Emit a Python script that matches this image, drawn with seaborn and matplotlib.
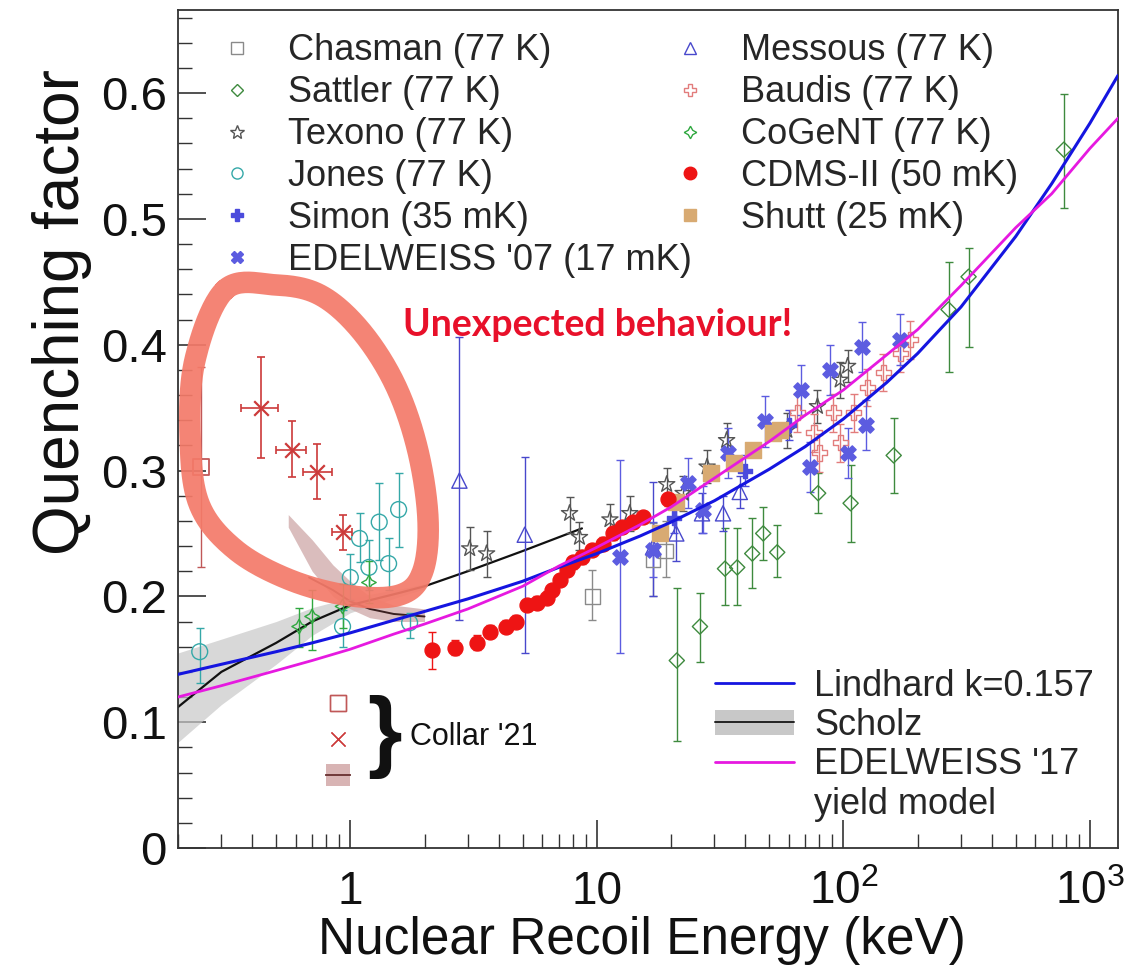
import numpy as np
import pandas as pd
import matplotlib
matplotlib.use("Agg")
import matplotlib.pyplot as plt
import seaborn as sns
from matplotlib.lines import Line2D
from matplotlib.patches import Patch
from matplotlib.ticker import FixedLocator, FuncFormatter, MultipleLocator, LogLocator, NullFormatter

# ---------------- data ----------------
# model curves
curve_x = [0.2, 0.3, 0.5, 0.7, 1, 1.5, 2, 3, 5, 7, 10, 15, 20, 30, 50, 70, 100, 150, 200, 300, 500, 700, 1000, 1300]
lindhard_y = [0.138, 0.146, 0.156, 0.163, 0.171, 0.181, 0.188, 0.198, 0.212, 0.223, 0.234, 0.248, 0.259, 0.276,
              0.301, 0.319, 0.341, 0.370, 0.393, 0.430, 0.486, 0.528, 0.576, 0.614]
edw17_y = [0.120, 0.129, 0.141, 0.149, 0.158, 0.170, 0.178, 0.190, 0.208, 0.224, 0.239, 0.257, 0.271, 0.294,
           0.323, 0.344, 0.364, 0.392, 0.412, 0.447, 0.493, 0.520, 0.556, 0.580]

scholz_x = [0.2, 0.3, 0.5, 0.7, 1.0, 1.6, 2.0, 3.0, 5.0, 8.7]
scholz_y = [0.112, 0.140, 0.163, 0.180, 0.193, 0.203, 0.208, 0.220, 0.236, 0.254]
scholz_band_x = [0.2, 0.3, 0.5, 0.7, 1.0, 1.6, 2.0]
scholz_lo = [0.084, 0.114, 0.146, 0.169, 0.187, 0.200, 0.206]
scholz_hi = [0.155, 0.166, 0.180, 0.191, 0.199, 0.206, 0.210]

collar_band_x = [0.56, 0.7, 0.85, 1.0, 1.2, 1.5, 2.0]
collar_band_lo = [0.255, 0.220, 0.200, 0.190, 0.183, 0.180, 0.180]
collar_band_hi = [0.265, 0.245, 0.225, 0.212, 0.200, 0.193, 0.190]
collar_line_x = [0.68, 0.85, 1.0, 1.2, 1.5, 2.0]
collar_line_y = [0.215, 0.205, 0.196, 0.190, 0.186, 0.184]

# Collar '21 points
collar_x = [0.435, 0.58, 0.734, 0.93]
collar_y = [0.350, 0.316, 0.299, 0.251]
collar_ylo = [0.310, 0.295, 0.277, 0.237]
collar_yhi = [0.390, 0.339, 0.321, 0.265]
collar_xlo = [0.36, 0.50, 0.64, 0.845]
collar_xhi = [0.51, 0.66, 0.84, 1.02]
collar_sq_x = [0.248]
collar_sq_y = [0.303]
collar_sq_lo = [0.223]
collar_sq_hi = [0.382]

# measurements
chasman_x = [9.6, 16.9, 19.0]
chasman_y = [0.200, 0.229, 0.236]
chasman_lo = [0.181, 0.200, 0.215]
chasman_hi = [0.221, 0.258, 0.260]

sattler_x = [21.1, 26.2, 33.1, 37.1, 42.7, 47.3, 53.9, 79, 107, 160, 267, 322, 784]
sattler_y = [0.149, 0.176, 0.222, 0.223, 0.234, 0.250, 0.235, 0.282, 0.274, 0.312, 0.428, 0.454, 0.555]
sattler_lo = [0.085, 0.148, 0.193, 0.193, 0.207, 0.229, 0.215, 0.266, 0.243, 0.282, 0.378, 0.398, 0.509]
sattler_hi = [0.207, 0.203, 0.254, 0.254, 0.262, 0.271, 0.257, 0.298, 0.304, 0.342, 0.466, 0.477, 0.599]

texono_x = [3.05, 3.57, 7.75, 8.5, 11.3, 13.6, 19.2, 22.4, 28, 33.6, 59, 78.5, 97, 104]
texono_y = [0.238, 0.234, 0.266, 0.247, 0.261, 0.266, 0.289, 0.282, 0.303, 0.324, 0.332, 0.351, 0.372, 0.383]
texono_lo = [0.221, 0.215, 0.250, 0.237, 0.249, 0.252, 0.276, 0.268, 0.290, 0.310, 0.318, 0.338, 0.358, 0.370]
texono_hi = [0.255, 0.252, 0.279, 0.259, 0.273, 0.280, 0.302, 0.296, 0.316, 0.338, 0.346, 0.364, 0.386, 0.396]

jones_x = [0.245, 0.93, 1.0, 1.09, 1.19, 1.31, 1.43, 1.57, 1.74]
jones_y = [0.156, 0.176, 0.215, 0.246, 0.223, 0.259, 0.226, 0.269, 0.179]
jones_lo = [0.131, 0.160, 0.197, 0.227, 0.205, 0.229, 0.205, 0.239, 0.167]
jones_hi = [0.175, 0.189, 0.234, 0.266, 0.245, 0.290, 0.246, 0.298, 0.187]

simon_x = [20.5, 40.0, 60.0]
simon_y = [0.262, 0.300, 0.336]
simon_lo = [0.250, 0.288, 0.324]
simon_hi = [0.274, 0.312, 0.348]

edw07_x = [12.4, 16.9, 23.4, 27, 34, 48, 67, 73, 88, 104, 119, 123, 170]
edw07_y = [0.231, 0.237, 0.290, 0.269, 0.314, 0.339, 0.364, 0.303, 0.380, 0.314, 0.398, 0.336, 0.404]
edw07_lo = [0.155, 0.215, 0.270, 0.250, 0.294, 0.319, 0.344, 0.283, 0.360, 0.294, 0.378, 0.316, 0.384]
edw07_hi = [0.308, 0.259, 0.310, 0.288, 0.334, 0.359, 0.384, 0.323, 0.400, 0.334, 0.418, 0.356, 0.424]

messous_x = [2.77, 5.1, 16.9, 21, 26.7, 32.5, 38]
messous_y = [0.292, 0.249, 0.239, 0.250, 0.266, 0.266, 0.283]
messous_lo = [0.181, 0.155, 0.200, 0.228, 0.250, 0.252, 0.270]
messous_hi = [0.406, 0.311, 0.291, 0.272, 0.282, 0.280, 0.296]

baudis_x = [65, 76, 80, 91, 97, 110, 125, 145, 170, 187]
baudis_y = [0.346, 0.330, 0.314, 0.346, 0.322, 0.346, 0.366, 0.378, 0.393, 0.404]
baudis_lo = [0.331, 0.315, 0.299, 0.331, 0.307, 0.331, 0.351, 0.363, 0.378, 0.389]
baudis_hi = [0.361, 0.345, 0.329, 0.361, 0.337, 0.361, 0.381, 0.393, 0.408, 0.419]

cogent_x = [0.62, 0.70, 0.93, 1.19]
cogent_y = [0.176, 0.184, 0.192, 0.211]
cogent_lo = [0.160, 0.157, 0.175, 0.195]
cogent_hi = [0.191, 0.205, 0.210, 0.228]

cdms_x = [2.15, 2.65, 3.25, 3.67, 4.3, 4.7, 5.2, 5.7, 6.3, 6.6, 7.1, 7.55, 8.0, 8.7, 9.6, 10.6, 11.6, 12.7, 14.0, 15.4, 19.5]
cdms_y = [0.157, 0.159, 0.163, 0.172, 0.176, 0.180, 0.193, 0.195, 0.199, 0.205, 0.213, 0.221, 0.227, 0.231,
          0.237, 0.242, 0.250, 0.255, 0.259, 0.263, 0.277]
cdms_err = [0.015, 0.006, 0.006, 0.005, 0.005, 0.005, 0.005, 0.005, 0.005, 0.005, 0.005, 0.005, 0.005, 0.005,
            0.005, 0.005, 0.005, 0.005, 0.005, 0.005, 0.005]

shutt_x = [18, 21, 29, 36, 43, 52, 55.5]
shutt_y = [0.250, 0.275, 0.298, 0.306, 0.316, 0.330, 0.332]

y_ticks = [0, 0.1, 0.2, 0.3, 0.4, 0.5, 0.6]
x_ticks = [1, 10, 100, 1000]
x_tick_labels = ["1", "10", "$10^{2}$", "$10^{3}$"]

legend1_labels = ["Chasman (77 K)", "Sattler (77 K)", "Texono (77 K)", "Jones (77 K)", "Simon (35 mK)",
                  "EDELWEISS '07 (17 mK)"]
legend2_labels = ["Messous (77 K)", "Baudis (77 K)", "CoGeNT (77 K)", "CDMS-II (50 mK)", "Shutt (25 mK)"]
legend3_labels = ["Lindhard k=0.157", "Scholz", "EDELWEISS '17", "yield model"]

# annotation ring (axes fraction)
ring_pts = [(0.050, 0.666), (0.103, 0.672), (0.151, 0.660), (0.194, 0.618), (0.231, 0.553), (0.255, 0.475),
            (0.266, 0.391), (0.260, 0.329), (0.236, 0.302), (0.183, 0.301), (0.119, 0.320), (0.061, 0.356),
            (0.023, 0.409), (0.013, 0.487), (0.018, 0.582)]

# ---------------- styling ----------------
sns.set_theme(style="ticks")
plt.rcParams["font.family"] = ["Liberation Sans", "DejaVu Sans"]
plt.rcParams["mathtext.fontset"] = "custom"
plt.rcParams["mathtext.rm"] = "Liberation Sans"
plt.rcParams["mathtext.it"] = "Liberation Sans:italic"
plt.rcParams["mathtext.bf"] = "Liberation Sans:bold"
plt.rcParams["axes.unicode_minus"] = False

C_BLUE = "#1515E0"
C_MAG = "#E619E0"
C_CHAS = "#8A8A8A"
C_SATT = "#3E8A3E"
C_TEX = "#555555"
C_JON = "#35A8A8"
C_SIM = "#4B4BDC"
C_EDW = "#5C5CE0"
C_MES = "#4848CC"
C_BAU = "#E27C7C"
C_COG = "#30A840"
C_CDMS = "#EE1414"
C_SHU = "#D8AA72"
C_COL = "#CC3A3A"
C_COLSQ = "#C05858"

fig = plt.figure(figsize=(11.25, 9.67), dpi=100)
ax = fig.add_axes([0.15822, 0.12306, 0.83556, 0.86660])
ax.set_xscale("log")
ax.set_xlim(0.2, 1300)
ax.set_ylim(0, 0.666)

# bands
ax.fill_between(scholz_band_x, scholz_lo, scholz_hi, color="#C8C8C8", alpha=0.7, lw=0, zorder=1)
ax.fill_between(collar_band_x, collar_band_lo, collar_band_hi, color="#D4B2B2", alpha=0.85, lw=0, zorder=1)

# curves
sns.lineplot(x=scholz_x, y=scholz_y, ax=ax, color="#111111", lw=1.6, zorder=2, estimator=None, sort=False)
sns.lineplot(x=collar_line_x, y=collar_line_y, ax=ax, color="#3A2020", lw=1.4, zorder=2, estimator=None, sort=False)


def series(x, y, lo, hi, color, marker, filled, size, lw=1.0, z=4, cap=3):
    x = np.asarray(x, float)
    y = np.asarray(y, float)
    if lo is not None:
        lo = np.asarray(lo, float)
        hi = np.asarray(hi, float)
        ax.errorbar(x, y, yerr=[y - lo, hi - y], fmt="none", ecolor=color, elinewidth=1.0,
                    capsize=cap, capthick=1.0, zorder=z - 1)
    if filled:
        sns.scatterplot(x=x, y=y, ax=ax, marker=marker, s=size, color=color, edgecolor=color,
                        linewidth=lw, zorder=z, legend=False)
    else:
        sns.scatterplot(x=x, y=y, ax=ax, marker=marker, s=size, facecolor="none", edgecolor=color,
                        linewidth=lw, zorder=z, legend=False)


series(chasman_x, chasman_y, chasman_lo, chasman_hi, C_CHAS, "s", False, 110)
series(sattler_x, sattler_y, sattler_lo, sattler_hi, C_SATT, "D", False, 60)
series(texono_x, texono_y, texono_lo, texono_hi, C_TEX, "*", False, 150)
series(jones_x, jones_y, jones_lo, jones_hi, C_JON, "o", False, 130)
series(messous_x, messous_y, messous_lo, messous_hi, C_MES, "^", False, 120)
series(baudis_x, baudis_y, baudis_lo, baudis_hi, C_BAU, "P", False, 120)
series(cogent_x, cogent_y, cogent_lo, cogent_hi, C_COG, (4, 1, 0), False, 110)
series(simon_x, simon_y, simon_lo, simon_hi, C_SIM, "P", True, 110)
series(edw07_x, edw07_y, edw07_lo, edw07_hi, C_EDW, "X", True, 120)
series(shutt_x, shutt_y, None, None, C_SHU, "s", True, 130)
cd_y = np.asarray(cdms_y)
cd_e = np.asarray(cdms_err)
series(cdms_x, cdms_y, cd_y - cd_e, cd_y + cd_e, C_CDMS, "o", True, 115, z=5)

sns.lineplot(x=curve_x, y=lindhard_y, ax=ax, color=C_BLUE, lw=2.2, zorder=6, estimator=None, sort=False)
sns.lineplot(x=curve_x, y=edw17_y, ax=ax, color=C_MAG, lw=2.0, zorder=6, estimator=None, sort=False)

# Collar '21
cx = np.asarray(collar_x)
cy = np.asarray(collar_y)
ax.errorbar(cx, cy, yerr=[cy - np.asarray(collar_ylo), np.asarray(collar_yhi) - cy],
            xerr=[cx - np.asarray(collar_xlo), np.asarray(collar_xhi) - cx],
            fmt="none", ecolor=C_COL, elinewidth=1.2, capsize=3, capthick=1.2, zorder=7)
sns.scatterplot(x=cx, y=cy, ax=ax, marker="x", s=110, color=C_COL, linewidth=1.6, zorder=8, legend=False)
series(collar_sq_x, collar_sq_y, collar_sq_lo, collar_sq_hi, C_COLSQ, "s", False, 140, lw=1.3, z=8)

# annotation ring
P = np.array(ring_pts)
n = len(P)
ts = np.linspace(0, 1, 24, endpoint=False)
pts = []
for i in range(n):
    p0, p1, p2, p3 = P[(i - 1) % n], P[i], P[(i + 1) % n], P[(i + 2) % n]
    for t in ts:
        pts.append(0.5 * (2 * p1 + (-p0 + p2) * t + (2 * p0 - 5 * p1 + 4 * p2 - p3) * t ** 2
                          + (-p0 + 3 * p1 - 3 * p2 + p3) * t ** 3))
pts.append(pts[0])
pts = np.array(pts)
ax.plot(pts[:, 0], pts[:, 1], transform=ax.transAxes, color="#F47A69", lw=15.5, alpha=0.92,
        solid_capstyle="round", solid_joinstyle="round", zorder=9)

ax.text(0.446, 0.624, "Unexpected behaviour!", transform=ax.transAxes, ha="center", va="center",
        color="#E8102A", fontsize=27, fontweight="bold", family=["Lato", "DejaVu Sans"], zorder=10)

# ---------------- axes formatting ----------------
ax.yaxis.set_major_locator(FixedLocator(y_ticks))
ax.yaxis.set_minor_locator(MultipleLocator(0.02))
ax.yaxis.set_major_formatter(FuncFormatter(lambda v, p: "%g" % round(v, 3)))
ax.xaxis.set_major_locator(FixedLocator(x_ticks))
ax.xaxis.set_major_formatter(FuncFormatter(lambda v, p: x_tick_labels[x_ticks.index(int(round(v)))]
                                           if int(round(v)) in x_ticks else ""))
ax.xaxis.set_minor_locator(LogLocator(base=10, subs=np.arange(2, 10), numticks=20))
ax.xaxis.set_minor_formatter(NullFormatter())

ax.tick_params(axis="both", which="major", direction="in", length=20, width=1.2, color="#333333",
               top=False, right=False)
ax.tick_params(axis="both", which="minor", direction="in", length=10, width=1.0, color="#333333",
               top=False, right=False)
ax.tick_params(axis="y", which="major", labelsize=34, pad=8, labelcolor="#111111")
ax.tick_params(axis="x", which="major", labelsize=33, pad=16, labelcolor="#111111")
for sp in ax.spines.values():
    sp.set_visible(True)
    sp.set_linewidth(1.3)
    sp.set_color("#333333")

ax.set_ylabel("Quenching factor", fontsize=46, color="#111111", va="center")
ax.yaxis.set_label_coords(-0.123, 0.64)
ax.set_xlabel("Nuclear Recoil Energy (keV)", fontsize=37, color="#111111", va="center")
ax.xaxis.set_label_coords(0.494, -0.11)

# ---------------- legends ----------------
def mk(marker, color, filled, ms):
    return Line2D([], [], ls="none", marker=marker, markersize=ms, markeredgecolor=color,
                  markerfacecolor=color if filled else "none", markeredgewidth=1.0)


h1 = [mk("s", C_CHAS, False, 8), mk("D", C_SATT, False, 6), mk("*", C_TEX, False, 10),
      mk("o", C_JON, False, 8), mk("P", C_SIM, True, 9), mk("X", C_EDW, True, 9)]
h2 = [mk("^", C_MES, False, 8), mk("P", C_BAU, False, 9), mk((4, 1, 0), C_COG, False, 9),
      mk("o", C_CDMS, True, 9), mk("s", C_SHU, True, 9)]
common = dict(frameon=False, fontsize=26, handlelength=1.0, handletextpad=0.9, labelspacing=0.19,
              borderpad=0, borderaxespad=0, loc="upper left")
leg1 = ax.legend(h1, legend1_labels, bbox_to_anchor=(0.0436, 0.972), **common)
ax.add_artist(leg1)
leg2 = ax.legend(h2, legend2_labels, bbox_to_anchor=(0.5255, 0.972), **common)
ax.add_artist(leg2)

h3 = [Line2D([], [], color=C_BLUE, lw=2),
      (Patch(facecolor="#C8C8C8", edgecolor="none"), Line2D([], [], color="#222222", lw=1.4)),
      Line2D([], [], color=C_MAG, lw=2),
      Line2D([], [], color="none")]
leg3 = ax.legend(h3, legend3_labels, bbox_to_anchor=(0.571, 0.214), frameon=False, fontsize=26,
                 handlelength=2.2, handletextpad=0.55, labelspacing=0.12, borderpad=0, borderaxespad=0,
                 loc="upper left")
ax.add_artist(leg3)

h4 = [mk("s", C_COLSQ, False, 12), mk("x", C_COL, False, 10),
      (Patch(facecolor="#D8B4B4", edgecolor="none"), Line2D([], [], color="#703838", lw=1.4))]
leg4 = ax.legend(h4, [" ", " ", " "], bbox_to_anchor=(0.157, 0.188), frameon=False, fontsize=22,
                 handlelength=0.8, handletextpad=0.2, labelspacing=0.2, borderpad=0, borderaxespad=0,
                 loc="upper left")
ax.add_artist(leg4)
ax.text(0.220, 0.132, "}", transform=ax.transAxes, ha="center", va="center", fontsize=64,
        fontweight="bold", color="#111111")
ax.text(0.247, 0.132, "Collar '21", transform=ax.transAxes, ha="left", va="center", fontsize=22,
        color="#111111")

fig.savefig("out.png", dpi=100)
